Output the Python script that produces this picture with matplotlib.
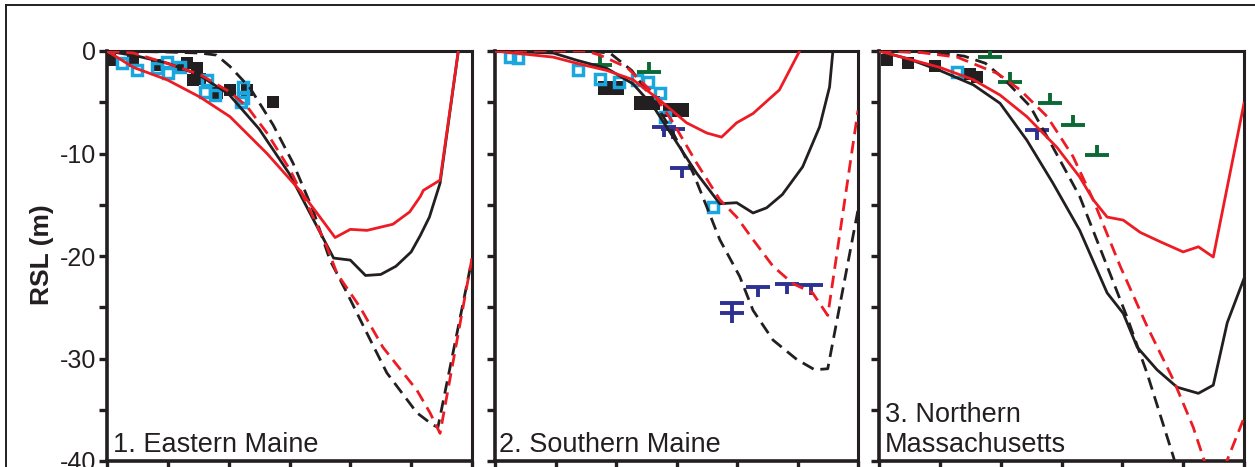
import matplotlib
matplotlib.use("Agg")
import matplotlib.pyplot as plt
from matplotlib.path import Path
from matplotlib.lines import Line2D

plt.rcParams['font.family'] = ['Liberation Sans', 'DejaVu Sans']

# ---- data (age in ka on x, RSL in m on y) ----
# 1. Eastern Maine
em_black_solid = ([0, 1, 2, 3, 4, 5, 6, 6.9, 7.45, 8.0, 8.5, 9.0, 9.5, 10.0, 10.3, 10.6, 10.95, 11.55],
                  [0, -0.5, -1.2, -2.3, -4.2, -7.6, -12.0, -17.1, -20.2, -20.4, -21.9, -21.8, -21.0, -19.6, -18.0, -16.2, -12.9, 0])
em_red_solid = ([0, 0.87, 1.97, 3.06, 4.04, 5.26, 6.34, 6.9, 7.5, 8.0, 8.55, 9.4, 9.95, 10.3, 10.4, 10.95, 11.55],
                [0, -1.6, -2.8, -4.5, -6.4, -10.0, -13.6, -15.8, -18.2, -17.4, -17.5, -16.9, -15.7, -14.2, -13.6, -12.6, 0])
em_black_dash = ([0, 1, 2, 3.06, 3.6, 4.04, 4.7, 5.46, 6.11, 6.77, 7.33, 7.89, 8.54, 9.2, 10.19, 10.72, 10.88, 12.0],
                 [0, -0.05, -0.1, -0.2, -0.4, -1.5, -3.6, -7.2, -10.9, -15.5, -20.4, -23.6, -27.5, -31.4, -35.3, -36.5, -36.7, -20.3])
em_red_dash = ([0, 0.87, 1.97, 3.06, 4.04, 4.6, 5.26, 6.02, 6.67, 7.23, 7.56, 8.32, 9.07, 10.19, 10.62, 10.95, 12.0],
               [0, -0.2, -1.2, -2.3, -4.0, -5.4, -8.0, -11.6, -15.5, -19.1, -21.7, -25.0, -28.9, -33.1, -35.3, -37.3, -20.2])
em_black_pts = ([0.1, 0.87, 1.64, 2.4, 2.63, 2.96, 3.06, 2.83, 3.6, 4.04, 4.6, 5.46],
                [-0.9, -1.0, -1.4, -1.7, -1.2, -1.7, -2.7, -2.8, -4.1, -3.8, -3.8, -5.0])
em_cyan_pts = ([0.49, 0.99, 1.64, 1.97, 2.0, 2.4, 3.29, 3.22, 3.55, 4.47, 4.47, 4.4],
               [-1.2, -1.9, -1.7, -1.1, -2.1, -1.6, -2.8, -4.0, -4.3, -3.5, -4.6, -5.0])

# 2. Southern Maine
sm_black_solid = ([0, 1.93, 2.7, 3.7, 4.56, 5.23, 5.89, 6.66, 7.43, 7.99, 8.53, 8.98, 9.5, 10.17, 10.73, 11.06, 11.17],
                  [0, -0.2, -0.9, -1.7, -3.2, -5.4, -8.4, -11.9, -14.9, -14.8, -15.8, -15.3, -14.0, -11.3, -7.4, -3.5, 0])
sm_red_solid = ([0, 1.93, 2.7, 3.7, 4.56, 5.45, 6.33, 7.0, 7.49, 7.99, 8.53, 9.4, 10.07],
                [0, -0.6, -1.2, -1.9, -2.8, -4.8, -7.0, -8.0, -8.4, -7.0, -6.1, -3.8, 0])
sm_black_dash = ([0, 3.0, 3.8, 4.52, 5.23, 5.89, 6.55, 7.0, 7.43, 8.09, 8.53, 9.19, 9.98, 10.57, 11.0, 12.0],
                 [0, 0, -0.2, -1.9, -4.8, -8.0, -11.9, -15.2, -18.4, -22.0, -25.3, -28.2, -30.1, -31.1, -31.0, -15.5])
sm_red_dash = ([0, 3.0, 3.47, 4.36, 5.23, 5.89, 6.66, 7.43, 7.99, 8.53, 9.19, 9.85, 10.5, 11.0, 12.0],
               [0, 0, -0.4, -1.6, -4.1, -7.0, -10.9, -14.5, -16.2, -18.4, -21.0, -22.7, -23.6, -25.8, -5.8])
sm_black_pts = ([3.83, 5.02, 5.97], [-3.6, -5.1, -5.8])
sm_cyan_pts = ([0.5, 0.75, 2.74, 3.47, 4.1, 4.7, 5.05, 5.45, 5.61, 7.2],
               [-0.6, -0.7, -1.9, -2.7, -3.0, -2.8, -3.0, -4.1, -6.4, -15.2])
sm_green_pts = ([3.47, 5.1], [-1.4, -2.0])
sm_blue_pts = ([5.6, 5.9, 6.17, 7.82, 7.85, 8.68, 9.64, 10.46],
               [-7.4, -7.6, -11.4, -24.6, -25.6, -23.0, -22.7, -22.8])

# 3. Northern Massachusetts
nm_black_solid = ([0, 1.0, 2.0, 3.1, 3.98, 4.86, 5.72, 6.6, 7.5, 8.03, 8.49, 9.14, 9.8, 10.5, 10.99, 11.45, 12.0],
                  [0, -0.8, -1.9, -3.3, -5.1, -8.7, -12.9, -17.5, -23.6, -25.6, -28.9, -31.1, -32.8, -33.4, -32.6, -26.5, -22.2])
nm_red_solid = ([0, 1.0, 2.0, 3.1, 3.98, 4.86, 5.85, 6.6, 7.04, 7.5, 8.03, 8.59, 9.24, 10.0, 10.5, 10.99, 12.0],
                [0, -0.8, -1.6, -2.8, -4.3, -6.4, -9.4, -12.3, -14.5, -16.2, -16.5, -17.7, -18.6, -19.6, -19.1, -20.1, -5.1])
nm_black_dash = ([0, 2.0, 2.8, 3.5, 4.1, 4.97, 5.72, 6.6, 7.5, 8.16, 8.82, 9.68, 10.1],
                 [0, -0.2, -0.5, -1.2, -2.7, -5.4, -9.4, -14.2, -21.0, -26.0, -31.5, -39.6, -44.0])
nm_red_dash = ([0, 1.25, 2.57, 3.9, 4.64, 5.53, 6.38, 7.04, 7.93, 8.82, 9.68, 10.33, 10.72, 11.05, 11.45, 12.0],
               [0, -0.1, -0.6, -2.2, -3.8, -6.4, -10.3, -14.5, -21.0, -26.9, -32.1, -36.7, -40.2, -43.0, -39.9, -35.8])
nm_black_pts = ([0.26, 0.95, 1.84, 3.0, 3.22], [-0.9, -1.2, -1.5, -2.2, -2.5])
nm_cyan_pts = ([2.57], [-2.0])
nm_green_pts = ([3.65, 4.31, 5.63, 6.38, 7.17], [-0.6, -3.0, -5.1, -7.2, -10.1])
nm_blue_pts = ([5.2], [-7.7])

panel_names = ["1. Eastern Maine", "2. Southern Maine", "3. Northern\nMassachusetts"]
y_tick_labels = ['-40', '', '-30', '', '-20', '', '-10', '', '0']

# ---- styles ----
RED = '#ed1c24'
BLACK = '#231f20'
CYAN = '#1aa7e0'
GREEN = '#0b6a34'
BLUE = '#2e3192'

codes = [Path.MOVETO, Path.LINETO, Path.MOVETO, Path.LINETO]
perp_marker = Path([(-1, 0), (1, 0), (0, 0), (0, 0.85)], codes)   # terrestrial limiting
tee_marker = Path([(-1, 0), (1, 0), (0, 0), (0, -0.85)], codes)   # marine limiting
wide_box = [(-1, -0.5), (1, -0.5), (1, 0.5), (-1, 0.5), (-1, -0.5)]

W, H = 1255, 467
fig = plt.figure(figsize=(W / 100, H / 100), dpi=100)

# outer frame (top and left edges only are on the canvas)
fig.add_artist(Line2D([6 / W, 6 / W], [-0.1, 1 - 5 / H], transform=fig.transFigure, color=BLACK, lw=1.4))
fig.add_artist(Line2D([6 / W, 1.1], [1 - 5 / H, 1 - 5 / H], transform=fig.transFigure, color=BLACK, lw=1.4))

lefts = [107, 495, 879]
widths = [365, 363, 365]
panels = [
    (em_black_solid, em_red_solid, em_black_dash, em_red_dash, em_black_pts, em_cyan_pts, None, None),
    (sm_black_solid, sm_red_solid, sm_black_dash, sm_red_dash, sm_black_pts, sm_cyan_pts, sm_green_pts, sm_blue_pts),
    (nm_black_solid, nm_red_solid, nm_black_dash, nm_red_dash, nm_black_pts, nm_cyan_pts, nm_green_pts, nm_blue_pts),
]

for i, (bs, rs, bd, rd, bpts, cpts, gpts, tpts) in enumerate(panels):
    ax = fig.add_axes([lefts[i] / W, (H - 461) / H, widths[i] / W, 410 / H])

    # data points
    if i == 1:
        ax.plot(*bpts, ls='none', marker=wide_box, ms=19, color=BLACK, mew=0, zorder=2)
    else:
        ax.plot(*bpts, ls='none', marker='s', ms=9, color=BLACK, mew=0, zorder=2)
    ax.plot(*cpts, ls='none', marker='s', ms=7.5, mfc='none', mec=CYAN, mew=2.5, zorder=3)
    if gpts is not None:
        ax.plot(*gpts, ls='none', marker=perp_marker, ms=17, mec=GREEN, mew=2.8, zorder=3)
    if tpts is not None:
        ax.plot(*tpts, ls='none', marker=tee_marker, ms=17, mec=BLUE, mew=2.8, zorder=3)

    # model curves
    ax.plot(*bs, color=BLACK, lw=2.0, zorder=4)
    ax.plot(*rs, color=RED, lw=2.0, zorder=5)
    ax.plot(*bd, color=BLACK, lw=2.0, ls=(0, (4.5, 2.5)), zorder=4)
    ax.plot(*rd, color=RED, lw=2.0, ls=(0, (4.5, 2.5)), zorder=5)

    ax.set_xlim(0, 12)
    ax.set_ylim(-40, 0)
    ax.set_xticks(range(0, 13, 2))
    ax.set_yticks(range(-40, 1, 5))
    ax.tick_params(direction='out', length=6, width=2.4, color=BLACK,
                   labelbottom=False, labelsize=18, labelcolor=BLACK, pad=2)
    if i == 0:
        ax.set_yticklabels(y_tick_labels)
    else:
        ax.tick_params(labelleft=False)
    for side, sp in ax.spines.items():
        sp.set_linewidth(2.6 if side in ('left', 'bottom') else 2.2)
        sp.set_color(BLACK)

    ax.text(0.016 if i != 1 else 0.011, 0.022, panel_names[i], transform=ax.transAxes,
            fontsize=19.5, color=BLACK, ha='left', va='baseline', linespacing=1.2, zorder=6)

fig.text(42 / W, 1 - 255 / H, "RSL (m)", rotation=90, ha='center', va='center',
         fontsize=19, fontweight='bold', color=BLACK)

fig.savefig("out.png", dpi=100)
